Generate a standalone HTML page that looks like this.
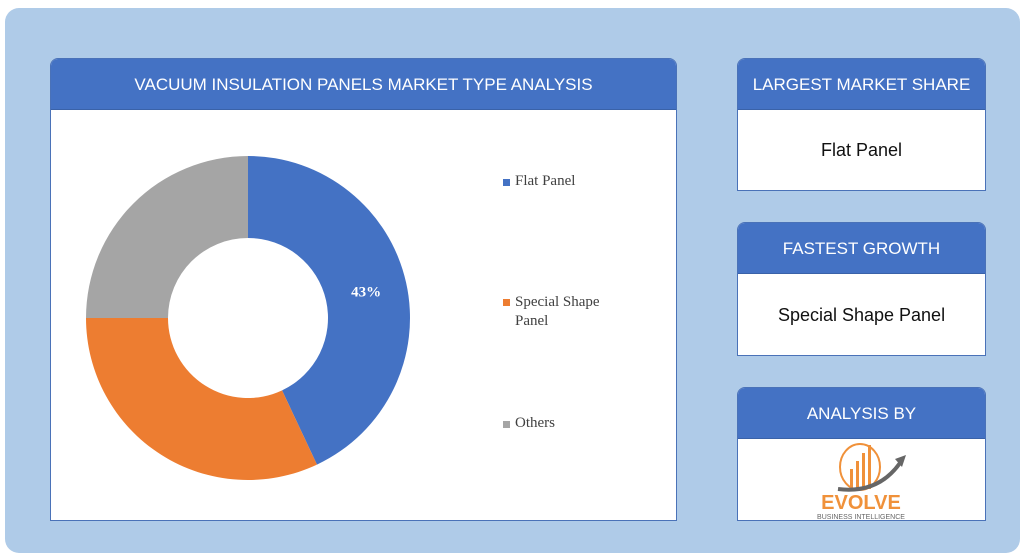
<!DOCTYPE html>
<html><head><meta charset="utf-8"><style>
body{margin:0;width:1024px;height:560px;background:#fff;font-family:"Liberation Sans",sans-serif;position:relative;overflow:hidden}
.bg{position:absolute;left:5px;top:8px;width:1015px;height:545px;background:#afcbe8;border-radius:14px}
.card{position:absolute;background:#fff;border:1px solid #4a72b8;border-radius:8px 8px 0 0;overflow:hidden}
.hd{background:#4472c4;color:#fff;height:50px;line-height:52px;text-align:center;font-size:17px;border-bottom:1px solid #3a62a8}
.bd{text-align:center;font-size:18px;color:#111}
.leg{position:absolute;font-family:"Liberation Serif",serif;font-size:15px;color:#404040;padding-left:12px}
.sw{position:absolute;left:0;top:6px;width:7px;height:7px}
</style></head><body>
<div class="bg"></div>
<div class="card" style="left:50px;top:58px;width:625px;height:461px">
<div class="hd">VACUUM INSULATION PANELS MARKET TYPE ANALYSIS</div>
<svg id="chart" width="625" height="411" style="position:absolute;left:0;top:50px"></svg>
<div class="leg" style="left:452px;top:114px"><span class="sw" style="background:#4472c4"></span>Flat Panel</div>
<div class="leg" style="left:452px;top:234px;line-height:19px"><span class="sw" style="background:#ed7d31"></span>Special Shape<br>Panel</div>
<div class="leg" style="left:452px;top:356px"><span class="sw" style="background:#a5a5a5"></span>Others</div>
</div>
<div class="card" style="left:737px;top:58px;width:247px;height:131px"><div class="hd">LARGEST MARKET SHARE</div><div class="bd" style="line-height:80px">Flat Panel</div></div>
<div class="card" style="left:737px;top:222px;width:247px;height:132px"><div class="hd">FASTEST GROWTH</div><div class="bd" style="line-height:82px">Special Shape Panel</div></div>
<div class="card" style="left:737px;top:387px;width:247px;height:132px"><div class="hd">ANALYSIS BY</div>
<svg width="247" height="82">
<ellipse cx="122" cy="28" rx="20" ry="23" fill="none" stroke="#f0913a" stroke-width="2"/>
<rect x="112" y="30" width="3" height="20" fill="#f0913a"/><rect x="118" y="22" width="3" height="28" fill="#f0913a"/><rect x="124" y="14" width="3" height="36" fill="#f0913a"/><rect x="130" y="6" width="3" height="44" fill="#f0913a"/>
<path d="M100 50 Q140 55 162 24" fill="none" stroke="#666" stroke-width="4"/><polygon points="157,20 168,16 164,28" fill="#666"/>
<text x="123" y="70" text-anchor="middle" font-size="20" font-weight="bold" fill="#f0913a" font-family="Liberation Sans">EVOLVE</text>
<text x="123" y="80" text-anchor="middle" font-size="7" fill="#666" font-family="Liberation Sans">BUSINESS INTELLIGENCE</text>
</svg></div>
<script>
const categories=["Flat Panel","Special Shape Panel","Others"];
const shares=[43,32,25];
const labels=["43%","",""];
const colors=["#4472c4","#ed7d31","#a5a5a5"];
const svg=document.getElementById('chart');const NS="http://www.w3.org/2000/svg";
const cx=197,cy=209,R=162,r=80;
const total=shares.reduce((a,b)=>a+b,0);
const ang=v=>v/total*2*Math.PI;
const pt=(a,rad)=>[cx+rad*Math.sin(a),cy-rad*Math.cos(a)];
let a0=0;
shares.forEach((v,i)=>{const a1=a0+ang(v);const lg=(a1-a0)>Math.PI?1:0;
const [x1,y1]=pt(a0,R),[x2,y2]=pt(a1,R),[x3,y3]=pt(a1,r),[x4,y4]=pt(a0,r);
const p=document.createElementNS(NS,'path');
p.setAttribute('d',`M${x1} ${y1}A${R} ${R} 0 ${lg} 1 ${x2} ${y2}L${x3} ${y3}A${r} ${r} 0 ${lg} 0 ${x4} ${y4}Z`);
p.setAttribute('fill',colors[i]);


svg.appendChild(p);
if(labels[i]){const [lx,ly]=pt((a0+a1)/2,(R+r)/2);const t=document.createElementNS(NS,'text');
t.setAttribute('x',lx);t.setAttribute('y',ly+5);t.setAttribute('text-anchor','middle');t.setAttribute('fill','#fff');t.setAttribute('font-size','15');t.setAttribute('font-weight','bold');t.setAttribute('font-family','Liberation Serif');t.textContent=labels[i];


svg.appendChild(t);}
a0=a1;});
</script>
</body></html>
